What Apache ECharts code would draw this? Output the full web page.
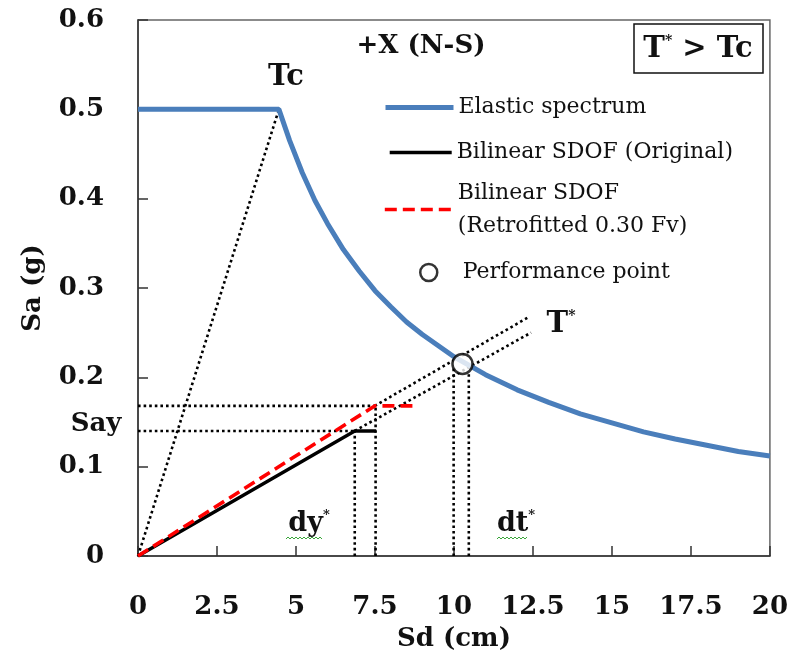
<!DOCTYPE html>
<html>
<head>
<meta charset="utf-8">
<script src="https://cdn.jsdelivr.net/npm/echarts@6/dist/echarts.min.js"></script>
</head>
<body style="margin:0;background:#fff;">
<div id="chart" style="width:791px;height:663px;"></div>
<script type="text/javascript">
    // tick values
    var xTicks = [0, 2.5, 5, 7.5, 10, 12.5, 15, 17.5, 20];
    var yTicks = [0, 0.1, 0.2, 0.3, 0.4, 0.5, 0.6];

    // elastic spectrum
    var spectrumSd = [0, 4.46, 4.8, 5.2, 5.6, 6, 6.5, 7, 7.5, 8, 8.5, 9, 10, 11, 12, 13, 14, 15, 16, 17, 18, 19, 20];
    var spectrumSa = [0.5, 0.5, 0.465, 0.429, 0.398, 0.372, 0.343, 0.319, 0.297, 0.279, 0.262, 0.248, 0.223, 0.203, 0.186, 0.172, 0.159, 0.149, 0.139, 0.131, 0.124, 0.117, 0.112];

    // bilinear SDOF original
    var origSd = [0, 6.86, 7.54];
    var origSa = [0, 0.14, 0.14];

    // bilinear SDOF retrofitted
    var retroSd = [0, 7.49, 8.75];
    var retroSa = [0, 0.168, 0.168];

    // performance point
    var perfSd = [10.27];
    var perfSa = [0.215];

    // dotted construction lines [x1, y1, x2, y2]
    var guideLines = [
        [0, 0, 4.46, 0.5],
        [0, 0.14, 6.86, 0.14],
        [0, 0.168, 7.49, 0.168],
        [6.86, 0, 6.86, 0.14],
        [7.52, 0, 7.52, 0.168],
        [7.49, 0.168, 12.39, 0.268],
        [6.86, 0.14, 12.44, 0.25],
        [9.99, 0, 9.99, 0.21],
        [10.47, 0, 10.47, 0.205]
    ];

    var FONT = 'DejaVu Serif';

    function pairs(xs, ys){
        var out = [];
        for(var i = 0; i < xs.length; i++){
            out.push([xs[i], ys[i]]);
        }
        return out;
    }

    var series = [];
    // dotted guides
    for(var g = 0; g < guideLines.length; g++){
        var s = guideLines[g];
        series.push({
            type: 'line',
            data: [[s[0], s[1]], [s[2], s[3]]],
            symbol: 'none',
            silent: true,
            z: 1,
            lineStyle: {color: '#000', width: 2.6, type: [2.6, 3]}
        });
    }
    series.push({
        name: 'Elastic spectrum',
        type: 'line',
        data: pairs(spectrumSd, spectrumSa),
        symbol: 'none',
        z: 3,
        itemStyle: {color: '#4a7ebb'},
        lineStyle: {color: '#4a7ebb', width: 5}
    });
    series.push({
        name: 'Bilinear SDOF (Original)',
        type: 'line',
        data: pairs(origSd, origSa),
        symbol: 'none',
        z: 4,
        itemStyle: {color: '#000'},
        lineStyle: {color: '#000', width: 3.4}
    });
    series.push({
        name: 'Bilinear SDOF (Retrofitted 0.30 Fv)',
        type: 'line',
        data: pairs(retroSd, retroSa),
        symbol: 'none',
        z: 5,
        itemStyle: {color: '#ff0000'},
        lineStyle: {color: '#ff0000', width: 3.6, type: [12, 6]}
    });
    series.push({
        name: 'Performance point',
        type: 'scatter',
        data: pairs(perfSd, perfSa),
        symbol: 'circle',
        symbolSize: 20,
        z: 6,
        itemStyle: {color: '#fff', borderColor: '#000', borderWidth: 2.5}
    });

    var legendText = {fontFamily: FONT, fontSize: 22, color: '#111', lineHeight: 33};
    var noDot = {color: 'rgba(0,0,0,0)', borderWidth: 0};

    var chart = echarts.init(document.getElementById('chart'));
    chart.setOption({
        animation: false,
        backgroundColor: '#fff',
        grid: {
            left: 138, right: 20, top: 20, bottom: 107,
            show: true, borderColor: '#666', borderWidth: 1.5
        },
        xAxis: {
            type: 'value',
            min: xTicks[0], max: xTicks[xTicks.length - 1], interval: xTicks[1] - xTicks[0],
            name: 'Sd (cm)',
            nameLocation: 'middle',
            nameGap: 70,
            nameTextStyle: {fontFamily: FONT, fontSize: 26, fontWeight: 'bold', color: '#111'},
            axisLine: {lineStyle: {color: '#333', width: 1.5}},
            axisTick: {inside: true, length: 10, lineStyle: {color: '#333', width: 1.5}},
            axisLabel: {fontFamily: FONT, fontSize: 26, fontWeight: 'bold', color: '#111', margin: 38},
            splitLine: {show: false}
        },
        yAxis: {
            type: 'value',
            min: yTicks[0], max: yTicks[yTicks.length - 1], interval: yTicks[1] - yTicks[0],
            name: 'Sa (g)',
            nameLocation: 'middle',
            nameGap: 92,
            nameTextStyle: {fontFamily: FONT, fontSize: 26, fontWeight: 'bold', color: '#111'},
            axisLine: {show: true, lineStyle: {color: '#333', width: 1.5}},
            axisTick: {show: true, inside: true, length: 10, lineStyle: {color: '#333', width: 1.5}},
            axisLabel: {fontFamily: FONT, fontSize: 26, fontWeight: 'bold', color: '#111', margin: 34},
            splitLine: {show: false}
        },
        legend: [
            {data: ['Elastic spectrum'], left: 383, top: 91, padding: 0, itemWidth: 68, itemHeight: 14,
                itemStyle: noDot, lineStyle: {color: '#4a7ebb', width: 5}, textStyle: legendText},
            {data: ['Bilinear SDOF (Original)'], left: 388, top: 136, padding: 0, itemWidth: 62, itemHeight: 14,
                itemStyle: noDot, lineStyle: {color: '#000', width: 3.4}, textStyle: legendText},
            {data: ['Bilinear SDOF (Retrofitted 0.30 Fv)'], left: 383, top: 160, padding: 0, itemWidth: 68, itemHeight: 14,
                itemStyle: noDot, lineStyle: {color: '#ff0000', width: 3.6, type: [12, 6]},
                formatter: function(){ return 'Bilinear SDOF\n(Retrofitted 0.30 Fv)'; },
                textStyle: {fontFamily: FONT, fontSize: 22, color: '#111', lineHeight: 33, padding: [33, 0, 0, 0]}},
            {data: ['Performance point'], left: 419, top: 256, padding: 0, itemWidth: 18, itemHeight: 17,
                itemStyle: {color: '#fff', borderColor: '#000', borderWidth: 2.5},
                textStyle: {fontFamily: FONT, fontSize: 22, color: '#111', lineHeight: 33, padding: [0, 0, 0, 20]}}
        ],
        graphic: [
            {type: 'text', x: 421, y: 46, style: {text: '+X (N-S)', fontFamily: FONT, fontSize: 26, fontWeight: 'bold', fill: '#111', align: 'center', verticalAlign: 'middle'}},
            {type: 'text', x: 286, y: 77, style: {text: 'Tc', fontFamily: FONT, fontSize: 29, fontWeight: 'bold', fill: '#111', align: 'center', verticalAlign: 'middle'}},
            {type: 'rect', shape: {x: 634, y: 24, width: 129, height: 49}, style: {fill: '#fff', stroke: '#111', lineWidth: 1.5}},
            {type: 'text', x: 698, y: 49, style: {
                text: '{b|T}{s|*}{b| > Tc}', align: 'center', verticalAlign: 'middle',
                rich: {
                    b: {fontFamily: FONT, fontSize: 29, fontWeight: 'bold', fill: '#111'},
                    s: {fontFamily: FONT, fontSize: 14, fontWeight: 'bold', fill: '#111', padding: [0, 0, 16, 0]}
                }
            }},
            {type: 'text', x: 561, y: 324, style: {
                text: '{b|T}{s|*}', align: 'center', verticalAlign: 'middle',
                rich: {
                    b: {fontFamily: FONT, fontSize: 29, fontWeight: 'bold', fill: '#111'},
                    s: {fontFamily: FONT, fontSize: 14, fontWeight: 'bold', fill: '#111', padding: [0, 0, 16, 0]}
                }
            }},
            {type: 'text', x: 96, y: 424, style: {text: 'Say', fontFamily: FONT, fontSize: 26, fontWeight: 'bold', fill: '#111', align: 'center', verticalAlign: 'middle'}},
            {type: 'text', x: 309, y: 524, style: {
                text: '{b|dy}{s|*}', align: 'center', verticalAlign: 'middle',
                rich: {
                    b: {fontFamily: FONT, fontSize: 27, fontWeight: 'bold', fill: '#111'},
                    s: {fontFamily: FONT, fontSize: 13, fontWeight: 'bold', fill: '#111', padding: [0, 0, 16, 0]}
                }
            }},
            {type: 'text', x: 516, y: 524, style: {
                text: '{b|dt}{s|*}', align: 'center', verticalAlign: 'middle',
                rich: {
                    b: {fontFamily: FONT, fontSize: 27, fontWeight: 'bold', fill: '#111'},
                    s: {fontFamily: FONT, fontSize: 13, fontWeight: 'bold', fill: '#111', padding: [0, 0, 16, 0]}
                }
            }},
            // green squiggles under dy and dt
            {type: 'polyline', shape: {points: [[286,539],[288,537],[290,539],[292,537],[294,539],[296,537],[298,539],[300,537],[302,539],[304,537],[306,539],[308,537],[310,539],[312,537],[314,539],[316,537],[318,539],[320,537],[322,539]]},
                style: {stroke: '#3aa63a', lineWidth: 1, fill: null}},
            {type: 'polyline', shape: {points: [[497,539],[499,537],[501,539],[503,537],[505,539],[507,537],[509,539],[511,537],[513,539],[515,537],[517,539],[519,537],[521,539],[523,537],[525,539],[527,537]]},
                style: {stroke: '#3aa63a', lineWidth: 1, fill: null}}
        ],
        series: series
    });
</script>
</body>
</html>
